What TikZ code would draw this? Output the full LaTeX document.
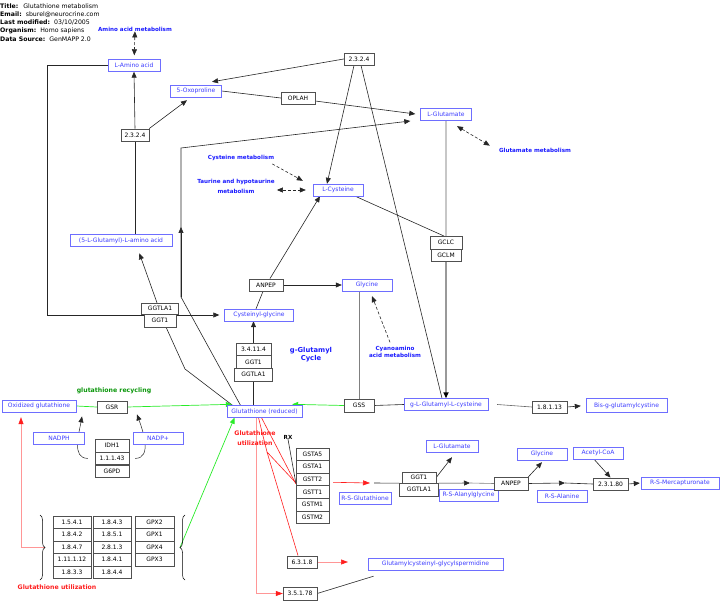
\documentclass[tikz,border=0pt]{standalone}
\usepackage{fontspec}
\setmainfont{DejaVu Sans}
\usepackage{tikz}
\usetikzlibrary{positioning,arrows.meta,decorations.pathreplacing,backgrounds}
\definecolor{metblue}{RGB}{110,110,255}
\definecolor{mettext}{RGB}{60,60,255}
\definecolor{lblblue}{RGB}{25,25,255}
\definecolor{enzgray}{RGB}{80,80,80}
\definecolor{recgreen}{RGB}{40,235,40}
\definecolor{darkgreen}{RGB}{10,150,10}
\definecolor{utilred}{RGB}{255,30,30}
\definecolor{palered}{RGB}{255,150,150}
\newcommand{\mapfont}{\fontsize{6}{7}\selectfont}
\newcommand{\tagfont}{\fontsize{5.6}{6.6}\selectfont\bfseries}
\newcommand{\bigtagfont}{\fontsize{6.2}{7.2}\selectfont\bfseries}
\newcommand{\hdrfont}{\fontsize{6.2}{7}\selectfont}

\begin{document}
\begin{tikzpicture}[
    x=1pt, y=-1pt,
    node distance=0pt,
    met/.style={draw=metblue, text=mettext, fill=white, font=\mapfont, minimum height=12pt, inner sep=0pt},
    enz/.style={draw=enzgray, fill=white, font=\mapfont, minimum height=12.5pt, inner sep=0pt},
    tag/.style={text=lblblue, font=\tagfont, align=center, inner sep=0pt},
    hdr/.style={anchor=west, font=\hdrfont, inner sep=0pt},
    conn/.style={line width=0.6pt, draw=black!85},
    arrow/.style={conn, -{Triangle[length=6pt,width=5pt]}},
    dblarrow/.style={conn, densely dashed, {Triangle[length=6pt,width=5pt]}-{Triangle[length=6pt,width=5pt]}},
    dasharrow/.style={conn, densely dashed, -{Triangle[length=6pt,width=5pt]}},
    recline/.style={line width=0.7pt, draw=recgreen, -{Triangle[length=6pt,width=5pt]}},
    utilline/.style={line width=0.6pt, draw=utilred},
    utilarrow/.style={line width=0.6pt, draw=palered, -{Triangle[length=7pt,width=5pt,color=utilred]}},
    brace/.style={decorate, decoration={brace, amplitude=5pt}, line width=0.5pt}
]
    \useasboundingbox (0,0) rectangle (728,609);

    \node[hdr] (hdtitle) at (0,5.7) {\textbf{Title:}\hspace{5pt}Glutathione metabolism};
    \node[hdr] (hdemail) at (0,14.2) {\textbf{Email:}\hspace{4pt}sburel@neurocrine.com};
    \node[hdr] (hdmod) at (0,22.7) {\textbf{Last modified:}\hspace{4pt}03/10/2005};
    \node[hdr] (hdorg) at (0,31.2) {\textbf{Organism:}\hspace{4pt}Homo sapiens};
    \node[hdr] (hdsrc) at (0,39.2) {\textbf{Data Source:}\hspace{4pt}GenMAPP 2.0};

    \node[tag] (aamet) at (135,29) {Amino acid metabolism};
    \node[tag] (glumet) at (535,150) {Glutamate metabolism};
    \node[tag] (cysmet) at (241,158) {Cysteine metabolism};
    \node[tag] (taurmet) at (236,186) {Taurine and hypotaurine\\[3.5pt]metabolism};
    \node[tag] (cyanomet) at (395,352) {Cyanoamino\\acid metabolism};
    \node[tag, font=\fontsize{6.8}{7.6}\selectfont\bfseries] (gcycle) at (311,354.5) {g-Glutamyl\\Cycle};
    \node[tag, font=\bigtagfont, text=darkgreen] (glutrec) at (114,391) {glutathione recycling};
    \node[tag, font=\bigtagfont, text=utilred] (utilleft) at (57,587) {Glutathione utilization};
    \node[tag, font=\bigtagfont, text=utilred] (utilmid) at (255,438) {Glutathione\\[3pt]utilization};
    \node[tag, text=black] (rx) at (288,437) {RX};

    \node[met, minimum width=52pt] (laminoacid) at (134,65.5) {L-Amino acid};
    \node[met, minimum width=51pt] (oxoproline) at (196,91) {5-Oxoproline};
    \node[met, minimum width=51pt] (lglutamate) at (446,114) {L-Glutamate};
    \node[met, minimum width=50pt] (lcysteine) at (338,190) {L-Cysteine};
    \node[met, minimum width=102pt] (glamino) at (121,240.5) {(5-L-Glutamyl)-L-amino acid};
    \node[met, minimum width=69pt] (cysgly) at (259,315) {Cysteinyl-glycine};
    \node[met, minimum width=50pt] (glycine) at (367,285) {Glycine};
    \node[met, minimum width=75pt] (gsh) at (264.5,411.5) {Glutathione (reduced)};
    \node[met, minimum width=84pt] (glglucys) at (446,404.5) {g-L-Glutamyl-L-cysteine};
    \node[met, minimum width=81pt, minimum height=14pt] (bisglu) at (626.5,405.5) {Bis-g-glutamylcystine};
    \node[met, minimum width=74pt] (gssg) at (39,406) {Oxidized glutathione};
    \node[met, minimum width=51pt] (nadph) at (59,438) {NADPH};
    \node[met, minimum width=50pt] (nadp) at (158,438) {NADP+};
    \node[met, minimum width=52pt] (rsglut) at (365,498) {R-S-Glutathione};
    \node[met, minimum width=52pt] (lglutamateb) at (452,446) {L-Glutamate};
    \node[met, minimum width=59pt] (rsalagly) at (468.5,495) {R-S-Alanylglycine};
    \node[met, minimum width=50pt] (glycineb) at (542,454) {Glycine};
    \node[met, minimum width=50pt] (rsala) at (562,496.5) {R-S-Alanine};
    \node[met, minimum width=50pt] (acetylcoa) at (598,453) {Acetyl-CoA};
    \node[met, minimum width=78pt] (rsmerc) at (680,483) {R-S-Mercapturonate};
    \node[met, minimum width=135pt] (spermidine) at (435.5,564) {Glutamylcysteinyl-glycylspermidine};

    \node[enz, minimum width=30pt] (ectop) at (359,59) {2.3.2.4};
    \node[enz, minimum width=34pt] (oplah) at (298,98) {OPLAH};
    \node[enz, minimum width=28pt] (ecleft) at (135,135) {2.3.2.4};
    \node[enz, minimum width=37pt, minimum height=11pt] (ggtlaa) at (160,308.5) {GGTLA1};
    \node[enz, minimum width=32pt, below=of ggtlaa] (ggta) {GGT1};
    \node[enz, minimum width=34pt] (anpepa) at (266,285) {ANPEP};
    \node[enz, minimum width=35pt] (ecpep) at (253.5,349) {3.4.11.4};
    \node[enz, minimum width=35pt, below=of ecpep] (ggtb) {GGT1};
    \node[enz, minimum width=38pt, below=of ggtb] (ggtlab) {GGTLA1};
    \node[enz, minimum width=30pt] (gss) at (359,405.5) {GSS};
    \node[enz, minimum width=32pt] (gclc) at (446,242.5) {GCLC};
    \node[enz, minimum width=30pt, below=of gclc] (gclm) {GCLM};
    \node[enz, minimum width=35pt] (ecbis) at (549.5,407) {1.8.1.13};
    \node[enz, minimum width=30pt] (gsr) at (112,407) {GSR};
    \node[enz, minimum width=34pt] (idh) at (112,445.5) {IDH1};
    \node[enz, minimum width=34pt, below=of idh] (ecnadp) {1.1.1.43};
    \node[enz, minimum width=34pt, below=of ecnadp] (gpd) {G6PD};
    \node[enz, minimum width=34pt, minimum height=11pt] (ggtc) at (419,477.5) {GGT1};
    \node[enz, minimum width=39pt, below=of ggtc] (ggtlac) {GGTLA1};
    \node[enz, minimum width=34pt] (anpepb) at (511,483.5) {ANPEP};
    \node[enz, minimum width=35pt] (ecmerc) at (610.5,484) {2.3.1.80};
    \node[enz, minimum width=30pt] (ecsperm) at (302,562) {6.3.1.8};
    \node[enz, minimum width=34pt] (ecgly) at (300,593.5) {3.5.1.78};

    \foreach \gst [count=\i] in {GSTA5,GSTA1,GSTT2,GSTT1,GSTM1,GSTM2}
        \node[enz, minimum width=33pt, minimum height=12.6pt] (\gst) at (312.5,441.5+12.6*\i) {\gst};
    \foreach \ec [count=\i] in {1.5.4.1,1.8.4.2,1.8.4.7,1.11.1.12,1.8.3.3}
        \node[enz, minimum width=38pt] (eca\i) at (72,509.5+12.5*\i) {\ec};
    \foreach \ec [count=\i] in {1.8.4.3,1.8.5.1,2.8.1.3,1.8.4.1,1.8.4.4}
        \node[enz, minimum width=38pt] (ecb\i) at (112,509.5+12.5*\i) {\ec};
    \foreach \gpx [count=\i] in {GPX2,GPX1,GPX4,GPX3}
        \node[enz, minimum width=39pt] (gpx\i) at (154.5,509.5+12.5*\i) {\gpx};

    \draw[brace] (40,515) -- (40,580);
    \draw[brace] (185,580) -- (185,515);
    \coordinate (utiltip) at (45,547.5);
    \coordinate (gpxtip) at (180,547.5);
    \coordinate (gbend) at (181,297);
    \coordinate (gtop) at (181,148);
    \coordinate (ggbend) at (185,369);
    \coordinate (rbranch) at (267,452);
    \coordinate (rsgtip) at (370,483);
    \coordinate (rsgstart) at (374,483);
    \coordinate (rsagtip) at (470,483);
    \coordinate (rsalatip) at (565,483);
    \coordinate (spermtip) at (348,562);

    \begin{scope}[on background layer]
    \draw[dblarrow, shorten >=4pt] (aamet) -- (laminoacid);
    \draw[dblarrow] ([xshift=11pt,yshift=-6pt]lglutamate.south) -- ([xshift=-9pt,yshift=2pt]glumet.north west);
    \draw[dasharrow] ([xshift=-2pt,yshift=-3pt]cysmet.south east) -- ([xshift=-10pt,yshift=3pt]lcysteine.north west);
    \draw[dblarrow, shorten <=2pt, shorten >=7pt] (taurmet.east |- lcysteine) -- (lcysteine.west);
    \draw[dasharrow] ([xshift=-5pt,yshift=4pt]cyanomet.north) -- ([xshift=5pt,yshift=-5pt]glycine.south);

    \draw[conn] (glamino.north -| ecleft) -- (ecleft.south);
    \draw[arrow] (ecleft.north) -- (laminoacid.south);
    \draw[arrow] (ecleft.north east) -- ([xshift=-9pt,yshift=-3pt]oxoproline.south);
    \draw[arrow] (ectop.west) -- ([xshift=16pt,yshift=3pt]oxoproline.north);
    \draw[conn] (oxoproline.east) -- (oplah.west);
    \draw[arrow] ([yshift=-3pt]oplah.east) -- ([xshift=-5pt]lglutamate.west);
    \draw[arrow] ([xshift=-5pt]ectop.south) -- ([xshift=-11pt]lcysteine.north);
    \draw[conn] ([xshift=2pt]ectop.south) -- ([xshift=-4pt]glglucys.north);

    \draw[arrow] ([xshift=-24pt]gsh.north) -- (gbend) -- (gtop) -- ([xshift=-10pt,yshift=-7pt]lglutamate.west);
    \draw[arrow] (gbend) -- ([yshift=70pt]gbend);
    \draw[conn] ([xshift=-32pt]gsh.north) -- (ggbend) -- ([xshift=6pt]ggta.south);
    \draw[arrow, shorten >=7pt] ([xshift=-3pt]ggtlaa.north) -- ([xshift=16pt]glamino.south);
    \draw[arrow] (laminoacid.west) -- ++(-61,0) |- ([xshift=-5pt]cysgly.west);

    \draw[conn] (ggtlab.south) -- (ggtlab.south |- gsh.north);
    \draw[arrow] (ecpep.north) -- (ecpep.north |- cysgly.south);
    \draw[conn] ([xshift=-3pt]cysgly.north) -- ([xshift=-3pt]anpepa.south);
    \draw[arrow] (anpepa.east) -- (glycine.west);
    \draw[arrow] ([xshift=4pt]anpepa.north) -- ([xshift=-18pt]lcysteine.south);
    \draw[conn] ([xshift=-8pt]lcysteine.south east) -- ([xshift=-2pt]gclc.north);

    \draw[line width=1.8pt, draw=black!22] (lglutamate.south) -- (gclc.north);
    \draw[line width=1.8pt, draw=black!40, -{Triangle[length=6pt,width=5pt,color=black]}] (gclm.south) -- (glglucys.north);
    \draw[conn, draw=black!50] (gss.north) -- (gss.north |- glycine.south);
    \draw[conn] (gss.east) -- (glglucys.west);
    \draw[conn, draw=black!60] ([xshift=9pt]glglucys.east) -- (ecbis.west);
    \draw[arrow, shorten >=5pt] (ecbis.east) -- (bisglu.west);

    \draw[recline, -] (gssg.east) -- (gsr.west);
    \draw[recline] (gsr.east) -- ([xshift=5pt,yshift=1pt]gsh.north west);
    \draw[recline] (gss.west) -- ([xshift=-10pt,yshift=1pt]gsh.north east);
    \draw[recline] (gpxtip) -- ([xshift=-30pt]gsh.south);
    \draw[arrow, line width=0.5pt] ([xshift=-7pt]ecnadp.west) to[out=180, in=-100] ([xshift=-30pt,yshift=-3pt]gsr.south);
    \draw[arrow, line width=0.5pt] ([xshift=6pt]ecnadp.east) to[out=0, in=-70] ([xshift=25pt,yshift=-1pt]gsr.south);
    \draw[utilarrow] (utiltip) -| ([xshift=-18pt,yshift=-5pt]gssg.south);

    \draw[utilline] ([xshift=-6pt]gsh.south) -- (rbranch) -- ([yshift=3pt]GSTT2.south west);
    \draw[utilline] ([xshift=-3pt]gsh.south) -- ([yshift=2pt]GSTT2.south west);
    \draw[utilline] (rbranch) -- ([xshift=-4pt]ecsperm.north);
    \draw[utilarrow] ([xshift=-8.5pt]gsh.south) |- (ecgly.west);
    \draw[conn] (rx.south) -- ([yshift=3pt]GSTT2.south west);
    \draw[utilline, -{Triangle[length=7pt,width=5pt]}] ([xshift=4pt,yshift=-3pt]GSTT2.east) -- (rsgtip);
    \draw[utilarrow] (ecsperm.east) -- (spermtip);
    \draw[conn] (ecgly.east) -- ([xshift=-62pt,yshift=-6pt]spermidine.south);

    \draw[conn] (rsgstart) -- (ggtlac.north west);
    \draw[arrow] (ggtlac.north east) -- (rsagtip);
    \draw[conn, draw=black!50] (rsagtip) -- (anpepb.west);
    \draw[arrow] (ggtc.east) -- ([yshift=-5pt]lglutamateb.south);
    \draw[arrow] (anpepb.north east) -- ([yshift=-2pt]glycineb.south);
    \draw[arrow] (anpepb.east) -- (rsalatip);
    \draw[conn] (rsalatip) -- (ecmerc.west);
    \draw[arrow] ([xshift=-4pt]acetylcoa.south) -- (ecmerc.north);
    \draw[arrow, shorten >=1pt] (ecmerc.east) -- (rsmerc.west);
    \end{scope}
\end{tikzpicture}
\end{document}
